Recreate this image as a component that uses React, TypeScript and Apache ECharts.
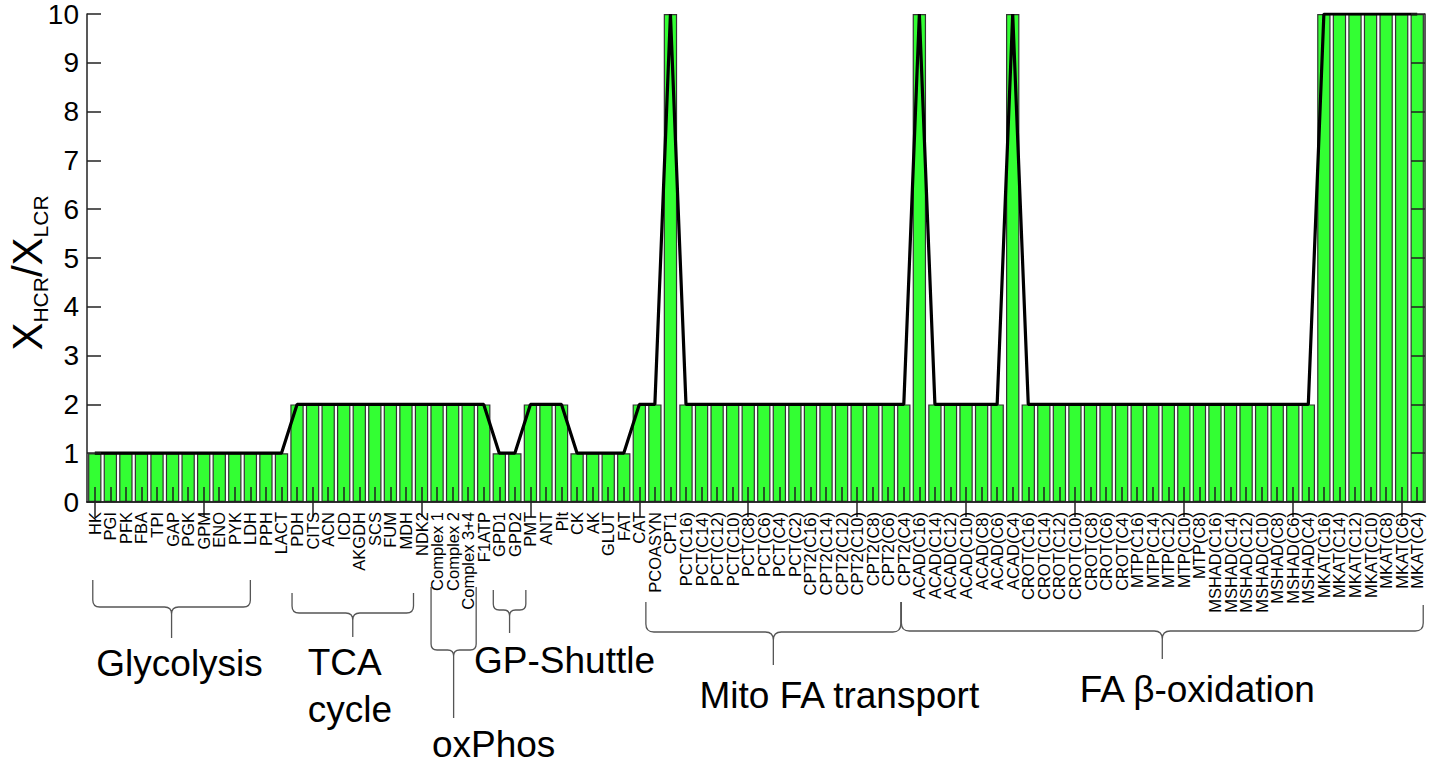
import React, { useEffect, useRef } from "react";
import * as echarts from "echarts";

// ---------- data ----------
const categories = [
  "HK", "PGI", "PFK", "FBA", "TPI", "GAP", "PGK", "GPM", "ENO", "PYK", "LDH", "PPH", "LACT",
  "PDH", "CITS", "ACN", "ICD", "AKGDH", "SCS", "FUM", "MDH", "NDK2",
  "Complex 1", "Complex 2", "Complex 3+4", "F1ATP",
  "GPD1", "GPD2", "PMT", "ANT", "Plt", "CK", "AK", "GLUT", "FAT", "CAT",
  "PCOASYN", "CPT1",
  "PCT(C16)", "PCT(C14)", "PCT(C12)", "PCT(C10)", "PCT(C8)", "PCT(C6)", "PCT(C4)", "PCT(C2)",
  "CPT2(C16)", "CPT2(C14)", "CPT2(C12)", "CPT2(C10)", "CPT2(C8)", "CPT2(C6)", "CPT2(C4)",
  "ACAD(C16)", "ACAD(C14)", "ACAD(C12)", "ACAD(C10)", "ACAD(C8)", "ACAD(C6)", "ACAD(C4)",
  "CROT(C16)", "CROT(C14)", "CROT(C12)", "CROT(C10)", "CROT(C8)", "CROT(C6)", "CROT(C4)",
  "MTP(C16)", "MTP(C14)", "MTP(C12)", "MTP(C10)", "MTP(C8)",
  "MSHAD(C16)", "MSHAD(C14)", "MSHAD(C12)", "MSHAD(C10)", "MSHAD(C8)", "MSHAD(C6)", "MSHAD(C4)",
  "MKAT(C16)", "MKAT(C14)", "MKAT(C12)", "MKAT(C10)", "MKAT(C8)", "MKAT(C6)", "MKAT(C4)",
];

// X_HCR / X_LCR ratio per category
const ratioValues = [
  1, 1, 1, 1, 1, 1, 1, 1, 1, 1, 1, 1, 1,
  2, 2, 2, 2, 2, 2, 2, 2, 2,
  2, 2, 2, 2,
  1, 1, 2, 2, 2, 1, 1, 1, 1, 2,
  2, 10,
  2, 2, 2, 2, 2, 2, 2, 2,
  2, 2, 2, 2, 2, 2, 2,
  10, 2, 2, 2, 2, 2, 10,
  2, 2, 2, 2, 2, 2, 2,
  2, 2, 2, 2, 2,
  2, 2, 2, 2, 2, 2, 2,
  10, 10, 10, 10, 10, 10, 10,
];

const yMin = 0;
const yMax = 10;
const yInterval = 1;

const groupLabels = ["Glycolysis", "TCA\ncycle", "oxPhos", "GP-Shuttle", "Mito FA transport", "FA β-oxidation"];
const groupFirst = ["HK", "PDH", "Complex 1", "GPD1", "PCOASYN", "ACAD(C16)"];
const groupLast = ["LDH", "NDK2", "Complex 3+4", "GPD2", "CPT2(C4)", "MKAT(C4)"];

// ---------- layout (pixels) ----------
const FONT = "'Liberation Sans', Arial, Helvetica, sans-serif";
const braceLayout = [
  { dl: -2, dr: 0, topL: 580, topR: 580, bar: 607, tip: 638, r1: 7, r2: 7, tx: 8, ty: 663, align: "center" },
  { dl: -5, dr: -8, topL: 593, topR: 593, bar: 613, tip: 637, r1: 7, r2: 7, tx: -45, ty: 686, align: "left" },
  { dl: -6, dr: 8, topL: 587, topR: 587, bar: 650, tip: 718, r1: 6, r2: 6, tx: 40, ty: 744, align: "center" },
  { dl: -6, dr: 11, topL: 590, topR: 590, bar: 610, tip: 633, r1: 6, r2: 6, tx: 55, ty: 660, align: "center" },
  { dl: -9, dr: -3, topL: 602, topR: 602, bar: 632, tip: 665, r1: 8, r2: 8, tx: 66, ty: 695, align: "center" },
  { dl: -18, dr: 6, topL: 602, topR: 605, bar: 631, tip: 659, r1: 8, r2: 8, tx: 35, ty: 689, align: "center" },
];

function bracePath(x1: number, x2: number, topL: number, topR: number, yb: number, tip: number, r1: number, r2: number) {
  const xm = (x1 + x2) / 2;
  return (
    `M${x1} ${topL} L${x1} ${yb - r1} Q${x1} ${yb} ${x1 + r1} ${yb} L${xm - r2} ${yb} Q${xm} ${yb} ${xm} ${yb + r2} L${xm} ${tip} ` +
    `M${x2} ${topR} L${x2} ${yb - r1} Q${x2} ${yb} ${x2 - r1} ${yb} L${xm + r2} ${yb} Q${xm} ${yb} ${xm} ${yb + r2}`
  );
}

export default function App() {
  const ref = useRef<HTMLDivElement>(null);

  useEffect(() => {
    if (!ref.current) return;
    const chart = echarts.init(ref.current, null, { renderer: "svg" });

    const axisColor = "#222";
    const option: any = {
      animation: false,
      backgroundColor: "#fff",
      grid: { left: 87, right: 7, top: 14, bottom: 261, containLabel: false },
      xAxis: [
        {
          type: "category",
          data: categories,
          position: "bottom",
          z: 10,
          axisLine: { lineStyle: { color: axisColor, width: 1.5 } },
          axisTick: { show: true, inside: true, alignWithLabel: true, length: 15, lineStyle: { color: axisColor, width: 1.5 } },
          axisLabel: { rotate: 90, interval: 0, fontSize: 16.5, color: "#000", margin: 10, fontFamily: FONT },
          splitLine: { show: false },
        },
        {
          type: "category",
          data: categories,
          position: "top",
          z: 10,
          axisLine: { lineStyle: { color: axisColor, width: 1.5 } },
          axisTick: { show: true, inside: true, alignWithLabel: true, length: 15, lineStyle: { color: axisColor, width: 1.5 } },
          axisLabel: { show: false },
          splitLine: { show: false },
        },
      ],
      yAxis: [
        {
          type: "value",
          min: yMin,
          max: yMax,
          interval: yInterval,
          position: "left",
          z: 10,
          axisLine: { show: true, lineStyle: { color: axisColor, width: 1.5 } },
          axisTick: { show: true, inside: true, length: 14, lineStyle: { color: axisColor, width: 1.5 } },
          axisLabel: { fontSize: 28, color: "#000", margin: 8, fontFamily: FONT },
          splitLine: { show: false },
        },
        {
          type: "value",
          min: yMin,
          max: yMax,
          interval: yInterval,
          position: "right",
          z: 10,
          axisLine: { show: true, lineStyle: { color: axisColor, width: 1.5 } },
          axisTick: { show: true, inside: true, length: 14, lineStyle: { color: axisColor, width: 1.5 } },
          axisLabel: { show: false },
          splitLine: { show: false },
        },
      ],
      series: [
        {
          type: "bar",
          data: ratioValues,
          barCategoryGap: "14%",
          itemStyle: { color: "#33ff33", borderColor: "#333", borderWidth: 1.2 },
          z: 2,
        },
        {
          type: "line",
          data: ratioValues,
          symbol: "none",
          lineStyle: { color: "#000", width: 3.2 },
          itemStyle: { color: "#000" },
          z: 5,
        },
      ],
    };
    chart.setOption(option);

    const px = (name: string) => chart.convertToPixel({ xAxisIndex: 0 }, name) as number;
    const graphics: any[] = [];
    groupLabels.forEach((label, i) => {
      const L = braceLayout[i];
      const x1 = px(groupFirst[i]) + L.dl;
      const x2 = px(groupLast[i]) + L.dr;
      const xm = (x1 + x2) / 2;
      const d = bracePath(x1, x2, L.topL, L.topR, L.bar, L.tip, L.r1, L.r2);
      const shapeName = "brace" + i;
      echarts.graphic.registerShape(shapeName, echarts.graphic.extendPath(d, {}) as any);
      graphics.push({
        type: shapeName,
        silent: true,
        style: { fill: "none", stroke: "#555", lineWidth: 1.3 },
      });
      graphics.push({
        type: "text",
        x: xm + L.tx,
        y: L.ty,
        silent: true,
        style: {
          text: label,
          fontSize: 37,
          lineHeight: 47,
          fontFamily: FONT,
          fill: "#000",
          align: L.align,
          verticalAlign: "middle",
        },
      });
    });
    graphics.push({
      type: "text",
      x: 27.5,
      y: 273,
      rotation: Math.PI / 2,
      silent: true,
      style: {
        text: "{m|X}{s|HCR}{m|/X}{s|LCR}",
        align: "center",
        verticalAlign: "middle",
        rich: {
          m: { fontSize: 42, lineHeight: 46, fontFamily: FONT, fill: "#000" },
          s: { fontSize: 21, lineHeight: 24, fontFamily: FONT, fill: "#000", verticalAlign: "bottom" },
        },
      },
    });
    chart.setOption({ graphic: graphics });

    return () => {
      chart.dispose();
    };
  }, []);

  return (
    <div
      ref={ref}
      style={{ position: "fixed", left: 0, top: 0, width: 1432, height: 763, background: "#fff" }}
    />
  );
}
